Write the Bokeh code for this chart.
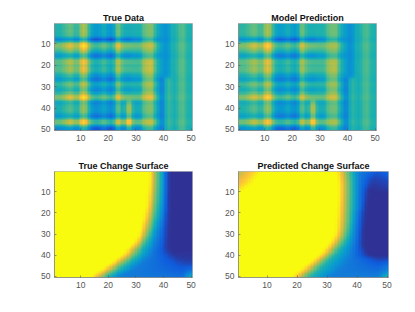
import numpy as np
from bokeh.embed import file_html
from bokeh.resources import INLINE
from bokeh.plotting import figure
from bokeh.layouts import row, column
from bokeh.models import LinearColorMapper, Range1d, FixedTicker

tick_vals = [10, 20, 30, 40, 50]
titles = ["True Data", "Model Prediction", "True Change Surface", "Predicted Change Surface"]

# heat-map stripes (one value per row / per column)
true_rows = [0.00,0.02,-0.03,0.03,-0.03,0.02,-0.10,-0.36,-0.10,0.22,0.22,0.14,0.08,0.02,-0.16,-0.18,-0.03,0.16,0.16,0.02,
             0.14,0.10,0.12,0.00,-0.04,-0.18,-0.16,0.02,0.08,-0.02,-0.05,-0.12,0.02,0.18,0.24,0.18,-0.12,-0.10,-0.03,-0.03,
             -0.02,-0.05,-0.12,-0.22,-0.05,0.20,0.22,-0.05,-0.24,-0.26]
true_cols = [0.50,0.50,0.51,0.55,0.60,0.64,0.62,0.54,0.50,0.72,0.78,0.74,0.52,0.40,0.36,0.36,0.38,0.46,0.46,0.37,
             0.34,0.36,0.68,0.68,0.49,0.47,0.46,0.46,0.48,0.48,0.48,0.50,0.64,0.66,0.67,0.72,0.52,0.44,0.38,0.36,
             0.52,0.56,0.52,0.44,0.52,0.60,0.62,0.54,0.50,0.48]

pred_rows = [0.00,0.01,0.00,0.02,0.00,0.01,-0.10,-0.32,-0.10,0.19,0.20,0.12,0.07,0.02,-0.14,-0.16,-0.04,0.14,0.14,0.03,
             0.12,0.09,0.10,0.00,-0.04,-0.16,-0.14,0.02,0.08,-0.01,-0.05,-0.11,0.02,0.16,0.22,0.16,-0.11,-0.09,-0.03,-0.02,
             -0.02,-0.05,-0.11,-0.20,-0.04,0.18,0.20,-0.05,-0.22,-0.24]
pred_cols = [0.52,0.52,0.53,0.56,0.60,0.64,0.62,0.55,0.52,0.71,0.76,0.74,0.52,0.41,0.38,0.38,0.39,0.46,0.46,0.38,
             0.36,0.38,0.66,0.66,0.51,0.49,0.47,0.47,0.49,0.49,0.49,0.51,0.62,0.64,0.64,0.68,0.52,0.44,0.38,0.36,
             0.50,0.54,0.50,0.44,0.50,0.58,0.60,0.54,0.50,0.48]
row_weight = [0.85]*4 + [1.0]*24 + [0.8]*4 + [0.55]*5 + [0.4, 0.2] + [0.08]*11
col27_28_lift = [0]*36 + [0.30,0.34,0.36,0.36,0.36,0.36,0.36,0.36,0.36,0.36,0.34,0.34,0.34,0.34]
col33_36_lift = [0]*17 + [0.06]*19 + [0.02]*14
col39_40_lift = [0]*25 + [-0.10]*25
col41_42_lift = [-0.20]*25 + [0]*25

# change surfaces: column of each colour step in every row
ts_hi   = [35.0,35.0,35.0,35.0,35.0,34.9,34.9,34.8,34.8,34.7,34.6,34.5,34.4,34.3,34.2,34.1,34.0,33.9,33.7,33.5,
           33.3,33.1,32.9,32.7,32.5,32.3,32.1,31.9,31.7,31.5,31.0,30.6,30.2,29.6,29.0,28.2,27.4,26.6,25.8,25.0,
           24.0,23.0,22.0,21.0,20.0,18.8,17.6,16.4,15.2,14.0]
ts_mid  = [38.8,38.8,38.8,38.8,38.8,38.7,38.7,38.7,38.6,38.6,38.5,38.5,38.4,38.4,38.3,38.2,38.1,38.0,37.9,37.8,
           37.6,37.4,37.2,37.0,36.8,36.6,36.4,36.1,35.8,35.5,35.1,34.7,34.3,33.9,33.5,32.9,32.4,31.9,31.3,30.7,
           29.8,28.9,28.0,27.0,26.0,24.8,23.6,22.4,21.2,20.0]
ts_blue = [40.5,40.5,40.5,40.5,40.5,40.5,40.5,40.5,40.5,40.5,40.4,40.4,40.3,40.3,40.2,40.2,40.1,40.0,39.9,39.8,
           39.6,39.5,39.3,39.1,38.9,38.8,38.6,38.4,38.2,38.0,37.8,37.6,37.4,37.2,37.0,36.6,36.2,35.8,35.4,35.0,
           34.2,33.4,32.6,31.8,31.0,29.6,28.2,26.8,25.4,24.0]
ts_dark = [41.8]*36 + [42.0,42.5,43.0,44.0,45.0,46.0,47.0,47.0,47.0,47.0,47.0,47.0,47.0,47.0]
ts_dark_v = [0.02]*38 + [0.03,0.03,0.04,0.05,0.06,0.08,0.10,0.12,0.14,0.16,0.18,0.20]
ts_end  = [0.02]*38 + [0.03,0.03,0.03,0.04,0.05,0.07,0.10,0.15,0.22,0.28,0.37,0.46]

ps_hi   = [33.5,33.6,33.7,33.8,33.9,34.0,34.0,34.0,34.0,34.0,34.0,34.0,34.0,34.0,33.9,33.9,33.9,33.8,33.8,33.8,
           33.7,33.7,33.6,33.6,33.5,33.5,33.4,33.3,33.2,33.0,32.6,32.2,31.8,31.3,30.8,30.2,29.6,29.0,28.3,27.6,
           26.7,25.8,25.0,24.2,23.3,22.3,21.4,20.4,19.5,18.5]
ps_mid  = [38.3,38.4,38.5,38.5,38.6,38.6,38.6,38.6,38.6,38.6,38.6,38.6,38.5,38.5,38.5,38.5,38.4,38.4,38.4,38.3,
           38.3,38.2,38.2,38.1,38.0,37.9,37.8,37.7,37.5,37.3,37.0,36.7,36.4,36.0,35.6,35.0,34.4,33.8,33.1,32.4,
           31.6,30.8,30.1,29.4,28.7,27.8,27.0,26.1,25.2,24.4]
ps_blue = [40.5]*18 + [40.2,40.0,40.0,39.9,39.8,39.8,39.7,39.6,39.6,39.5,39.5,39.4,39.3,39.2,39.1,39.0,38.9,38.7,38.5,38.3,38.0,37.8,
           37.4,37.0,36.6,36.2,35.6,34.8,34.0,33.2,32.3,31.4]
ps_dark = [47.0,46.5,46.0,45.5,45.0,44.8,44.5,44.2,44.0,43.7,43.5,43.4,43.3,43.2,43.1,43.0,42.9,42.8,42.7,42.6,
           42.5,42.4,42.3,42.3,42.2,42.2,42.1,42.1,42.0,42.0,42.0,42.0,42.0,42.0,42.0,42.2,42.5,43.0,43.5,44.0,
           46.0,47.0,47.0,47.0,47.0,47.0,47.0,47.0,47.0,47.0]
ps_dark_v = [0.10,0.09,0.07,0.06,0.05,0.04,0.03,0.03,0.02,0.02]+[0.02]*30+[0.04,0.07,0.10,0.12,0.15,0.17,0.19,0.21,0.23,0.25]
ps_end  = [0.16,0.14,0.12,0.10,0.08,0.07,0.06,0.05,0.04,0.03]+[0.02]*30+[0.04,0.08,0.12,0.16,0.20,0.24,0.28,0.34,0.42,0.52]
ps_corner_v = [0.78,0.80,0.82,0.84,0.86,0.88,0.90,0.93,0.96,0.98]+[1.0]*40
ps_corner_c = [8.0,7.5,7.0,6.5,6.0,5.0,4.0,3.0,2.5,2.0]+[1.5]*40

# MATLAB parula anchors
anchors = [(53,42,135),(15,92,221),(18,125,216),(7,156,207),(30,178,172),(96,190,130),(171,191,75),(252,188,60),(249,251,14)]
palette = []
for k in range(256):
    t = k / 255 * 8
    a = min(int(t), 7)
    f = t - a
    palette.append("#%02x%02x%02x" % tuple(int(round(anchors[a][c] + (anchors[a+1][c] - anchors[a][c]) * f)) for c in range(3)))
mapper = LinearColorMapper(palette=palette, low=0, high=1)

cols = np.arange(1, 51)

def soften(m):
    # the reference is a downsampled, slightly blurred photograph of the cells
    k = np.array([0.2, 0.6, 0.2])
    m = np.pad(m, 1, mode="edge")
    m = np.apply_along_axis(lambda v: np.convolve(v, k, mode="same"), 0, m)
    m = np.apply_along_axis(lambda v: np.convolve(v, k, mode="same"), 1, m)
    return m[1:-1, 1:-1]

def stripes(rows, columns):
    m = np.asarray(columns)[None, :] + np.asarray(rows)[:, None] * np.asarray(row_weight)[None, :]
    m[:, 26:28] += np.asarray(col27_28_lift)[:, None]
    m[:, 32:36] += np.asarray(col33_36_lift)[:, None]
    m[:, 38:40] += np.asarray(col39_40_lift)[:, None]
    m[:, 40:42] += np.asarray(col41_42_lift)[:, None]
    return soften(np.clip(m, 0, 1))

def surface(hi, mid, blue, dark, dark_v, end, corner_v=None, corner_c=None):
    m = np.zeros((50, 50))
    for i in range(50):
        xs = [hi[i], mid[i], blue[i], dark[i], 50.0]
        ys = [1.0, 0.5, 0.25, dark_v[i], end[i]]
        if corner_v is not None:
            xs = [1.0, corner_c[i]] + xs
            ys = [corner_v[i], 1.0] + ys
        m[i] = np.interp(cols, xs, ys)
    return soften(m)

true_data = stripes(true_rows, true_cols)
pred_data = stripes(pred_rows, pred_cols)
true_surf = surface(ts_hi, ts_mid, ts_blue, ts_dark, ts_dark_v, ts_end)
pred_surf = surface(ps_hi, ps_mid, ps_blue, ps_dark, ps_dark_v, ps_end, ps_corner_v, ps_corner_c)

def panel(data, title, left, fw, right, top, fh, bottom):
    p = figure(width=left + fw + right, height=top + fh + bottom,
               x_range=Range1d(0.5, 50.5), y_range=Range1d(50.5, 0.5),
               toolbar_location=None, output_backend="svg", title=title,
               min_border_left=left, min_border_right=right, min_border_top=top, min_border_bottom=bottom)
    p.image(image=[data], x=0.5, y=0.5, dw=50, dh=50, color_mapper=mapper)
    p.grid.visible = False
    p.title.align = "center"
    p.title.text_font = "Liberation Sans"
    p.title.text_font_size = "9px"
    p.title.text_font_style = "bold"
    p.title.text_color = "#111111"
    p.title.standoff = 1
    for ax in (p.xaxis[0], p.yaxis[0]):
        ax.ticker = FixedTicker(ticks=tick_vals)
        ax.major_label_text_font = "Liberation Sans"
        ax.major_label_text_font_size = "8.5px"
        ax.major_label_text_color = "#555555"
        ax.major_tick_in = 2
        ax.major_tick_out = 0
        ax.minor_tick_line_color = None
        ax.axis_line_color = "#777777"
        ax.axis_line_width = 0.6
        ax.major_tick_line_color = "#555555"
        ax.major_tick_line_width = 0.6
        ax.major_label_standoff = 4
    p.outline_line_color = "#888888"
    p.outline_line_width = 0.6
    return p

p1 = panel(true_data, titles[0], 54, 138, 30, 23, 107, 18)
p2 = panel(pred_data, titles[1], 15, 139, 31, 23, 107, 18)
p3 = panel(true_surf, titles[2], 54, 138, 30, 23, 106, 25)
p4 = panel(pred_surf, titles[3], 10, 156, 19, 23, 108, 23)
page = column(row(p1, p2), row(p3, p4))
open("out.html", "w").write(file_html(page, INLINE))
